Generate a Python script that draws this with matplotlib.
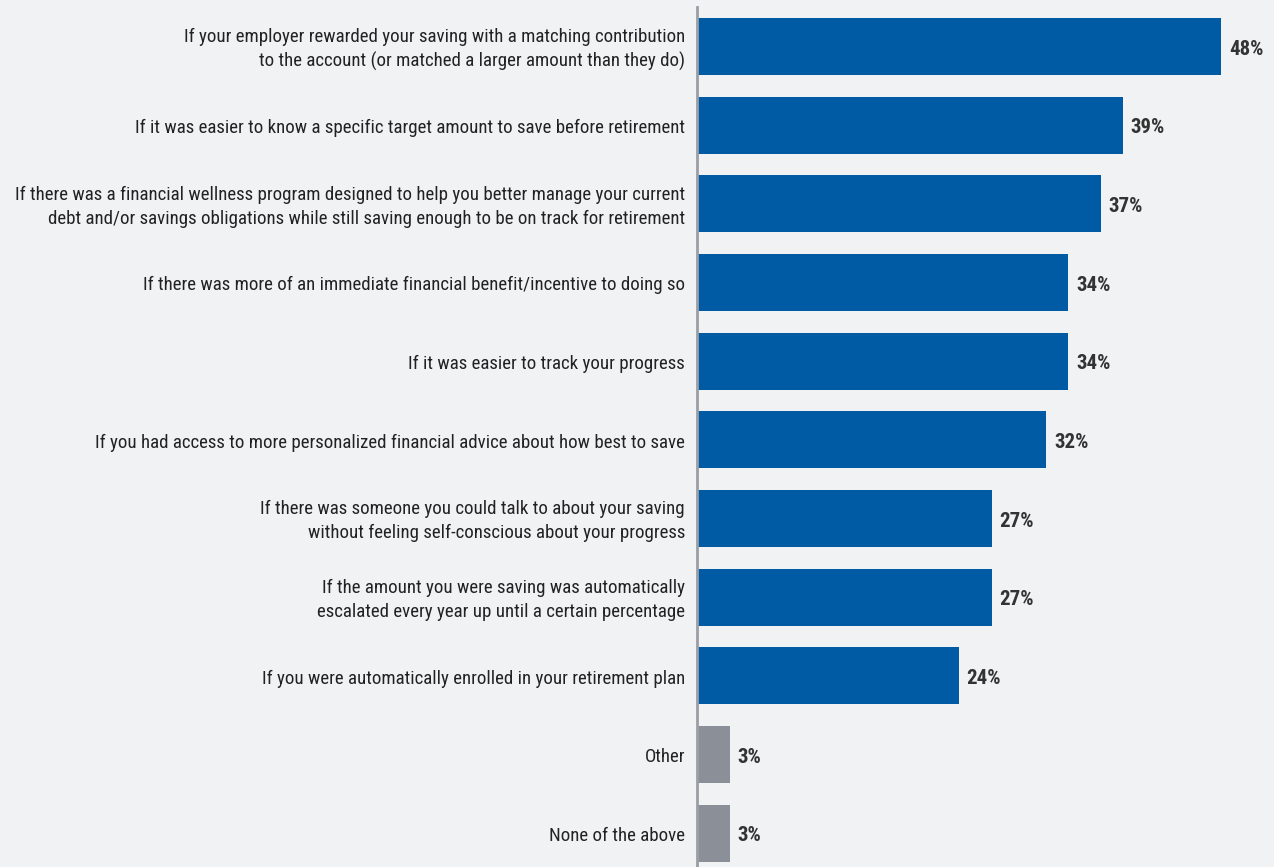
import matplotlib
matplotlib.use("Agg")
import matplotlib.pyplot as plt

labels = [
    "If your employer rewarded your saving with a matching contribution\nto the account (or matched a larger amount than they do)",
    "If it was easier to know a specific target amount to save before retirement",
    "If there was a financial wellness program designed to help you better manage your current\ndebt and/or savings obligations while still saving enough to be on track for retirement",
    "If there was more of an immediate financial benefit/incentive to doing so",
    "If it was easier to track your progress",
    "If you had access to more personalized financial advice about how best to save",
    "If there was someone you could talk to about your saving\nwithout feeling self-conscious about your progress",
    "If the amount you were saving was automatically\nescalated every year up until a certain percentage",
    "If you were automatically enrolled in your retirement plan",
    "Other",
    "None of the above",
]
values = [48, 39, 37, 34, 34, 32, 27, 27, 24, 3, 3]
is_other = [False] * 9 + [True, True]

plt.rcParams["font.family"] = ["Roboto Condensed", "Fira Sans Condensed", "Liberation Sans", "DejaVu Sans"]

BG = "#f1f2f4"
BLUE = "#005ba4"
GRAY = "#8a8f98"
TXT = "#222222"

fig = plt.figure(figsize=(12.74, 8.67), dpi=100, facecolor=BG)
ax = fig.add_axes([697 / 1274, 0, 1 - 697 / 1274, 1 - 7 / 867])
ax.set_facecolor(BG)

colors = [GRAY if o else BLUE for o in is_other]
ypos = list(range(len(values)))
ax.barh(ypos, values, height=0.725, color=colors)

ax.set_xlim(0, (1274 - 697) / 10.92)
ax.set_ylim(10.432, -0.502)

# text sits a couple of pixels below bar centre in the original
dy = 0.035
for y, v, lab in zip(ypos, values, labels):
    ax.text(v + 0.7, y + dy, f"{v}%", va="center", ha="left", fontsize=15,
            fontweight="bold", color="#333333")
    ax.text(-1.1, y + dy, lab, va="center", ha="right", fontsize=13.6,
            color=TXT, linespacing=1.42)

for s in ["top", "right", "bottom"]:
    ax.spines[s].set_visible(False)
ax.spines["left"].set_color("#9a9ea5")
ax.spines["left"].set_linewidth(2)
ax.set_xticks([])
ax.set_yticks([])

fig.savefig("out.png", dpi=100, facecolor=BG)
